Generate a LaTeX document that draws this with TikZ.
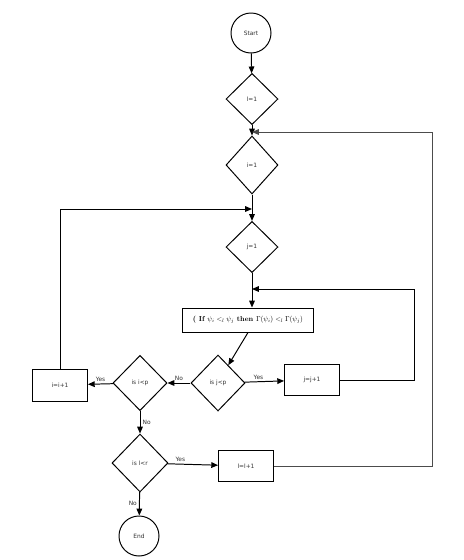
\documentclass[tikz,border=0pt]{standalone}
\usepackage{fontspec}
\setsansfont{DejaVu Sans}
\usepackage{graphicx}
\usepackage{tikz}
\usetikzlibrary{arrows.meta,positioning,shapes.geometric}

\begin{document}
\begin{tikzpicture}[x=0.025cm,y=-0.025cm,>={Triangle[length=0.17cm,width=0.14cm]},
  line width=0.7pt,
  txt/.style={font=\sffamily\fontsize{4.2}{5}\selectfont,text=black!80},
  term/.style={draw,circle,minimum size=1.0cm,inner sep=0,txt},
  dec/.style={draw,diamond,aspect=1,inner sep=0,minimum width=1.3cm,minimum height=1.28cm,txt},
  box/.style={draw,rectangle,inner sep=0,minimum width=1.37cm,minimum height=0.78cm,txt},
  lbl/.style={txt,inner sep=1.5pt}]
\useasboundingbox (0,0) rectangle (464,560);
% main column
\node[term] (start) at (251,33) {Start};
\node[dec] (lset) at (252,99) {l=1};
\node[dec,minimum height=1.45cm] (iset) at (252,165) {i=1};
\node[dec] (jset) at (252,247) {j=1};
\node[draw,rectangle,inner sep=0,minimum width=3.25cm,minimum height=0.6cm] (cmp) at (248,320)
  {\resizebox{2.75cm}{!}{\bfseries ( If $\psi_i <_l \psi_j$ then $\Gamma(\psi_i) <_l \Gamma(\psi_j)$}};
\node[dec,minimum width=1.35cm,minimum height=1.4cm] (jlp) at (218,383) {is j<p};
\node[box] (jinc) at (312,380) {j=j+1};
\node[dec,minimum width=1.35cm,minimum height=1.38cm] (ilp) at (140,383) {is i<p};
\node[box,minimum height=0.8cm] (iinc) at (60,385) {i=i+1};
\node[dec,minimum width=1.4cm,minimum height=1.45cm] (llr) at (140,463) {is l<r};
\node[box] (linc) at (246,466) {l=l+1};
\node[term] (stop) at (139,536) {End};
% join points of the loops
\coordinate (m1) at (252,132);
\coordinate (m2) at (252,209);
\coordinate (m3) at (252,289);
\coordinate (r1) at (432,132);
\coordinate (r2) at (414,289);
\draw[->] (start)--(lset);
\draw[->] (lset)--(iset);
\draw[->] (iset)--(jset);
\draw[->] (jset)--(jset|-cmp.north);
\draw[->] (cmp.south)--(jlp.60);
\draw[->] (jlp)--node[lbl,above,pos=0.35]{Yes}(jinc);
\draw[->] (jlp)--node[lbl,above]{No}(ilp);
\draw[->] (ilp)--node[lbl,above]{Yes}(iinc);
\draw[->] (ilp)--node[lbl,right]{No}(llr);
\draw[->] (llr)--node[lbl,above,pos=0.25]{Yes}(linc);
\draw[->] (llr)--node[lbl,left]{No}(stop);
% loops back
\draw[->] (jinc.east)-|(r2)--(m3);
\draw[->] (iinc.north)|-(m2);
\draw[->,black!70] (linc.east)-|(r1)--(m1);
\end{tikzpicture}
\end{document}
